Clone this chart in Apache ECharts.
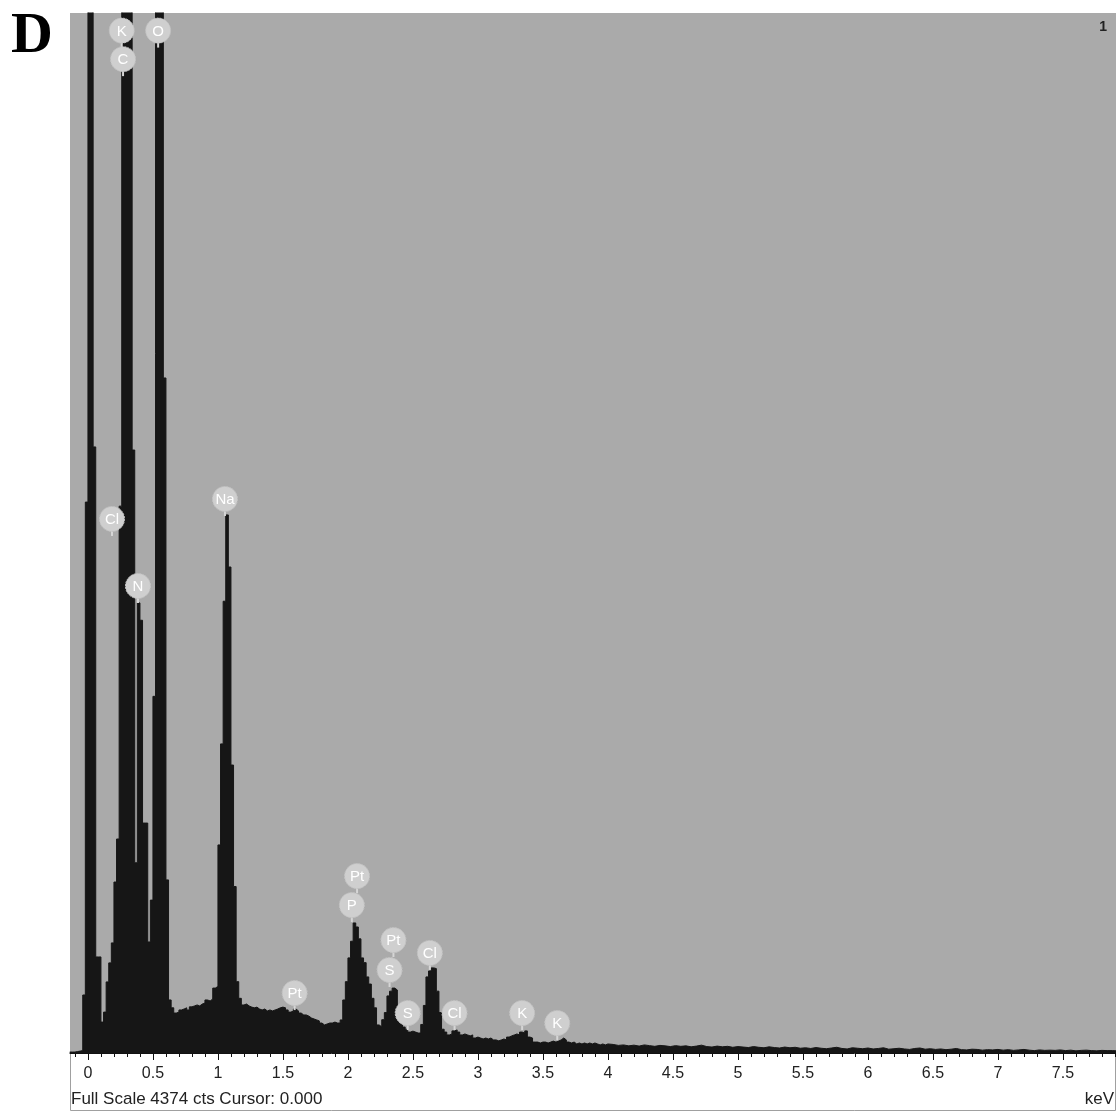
<!DOCTYPE html>
<html>
<head>
<meta charset="utf-8">
<title>EDS spectrum D</title>
<script src="https://cdn.jsdelivr.net/npm/echarts@6/dist/echarts.min.js"></script>
<style>
  html, body { margin: 0; padding: 0; background: #fff; }
  #chart { width: 1116px; height: 1112px; }
</style>
</head>
<body>
<div id="chart"></div>
<script>
// spectrum, 0.02 keV channels starting at -0.14 keV (counts)
const lowStart = -0.14;
const lowWidth = 0.02;
const lowCounts = [
    4, 4, 6, 8, 10, 244, 2317, 5000, 5000, 2549,
    404, 404, 130, 172, 299, 379, 463, 719, 900, 2300,
    5000, 5000, 5000, 5000, 2536, 800, 1893, 1820, 967, 967,
    467, 643, 1500, 5000, 5000, 5000, 2839, 728, 223, 190,
    168, 172, 181, 185, 190, 181, 194, 198, 202, 198,
    206, 210, 223, 219, 227, 273, 280, 875, 1300, 1900,
    2263, 2044, 1211, 700, 300, 230, 202, 206, 198, 193,
    190, 193, 185, 181, 185, 177, 181, 177, 181, 185,
    190, 193, 190, 181, 172, 176, 185, 177, 168, 160,
    160, 155, 147, 143, 139, 135, 126, 118, 122, 126,
    126, 130, 126, 126, 139, 223, 300, 400, 470, 547,
    530, 480, 400, 380, 320, 290, 230, 190, 118, 110,
    140, 170, 240, 260, 273, 265, 181, 140, 109, 100,
    88, 92, 88, 84, 84, 120, 200, 320, 345, 358,
    355, 260, 170, 100, 88, 76, 80, 93, 97, 88,
    76, 80, 76, 72, 76, 63, 67, 63, 59, 63,
    59, 63, 55, 55, 51, 55, 59, 55, 67, 72,
    76, 80, 76, 88, 84, 93, 67, 63, 46, 46,
    42, 46, 46, 42, 46, 50, 46, 50, 55, 63,
    55, 46, 42, 46, 38, 42, 38, 42, 38, 42,
    38, 42, 38, 34, 38, 34, 38
];

// tail, 0.04 keV channels from 4.00 keV
const tailStart = 4.0;
const tailWidth = 0.04;
const tailCounts = [
    36, 32, 34, 30, 33, 29, 34, 31, 28, 32, 30, 27, 31,
    28, 30, 26, 29, 33, 27, 25, 29, 26, 28, 24, 27,
    25, 23, 27, 24, 22, 26, 23, 21, 25, 22, 24, 20,
    22, 19, 23, 20, 18, 21, 24, 19, 17, 22, 20, 18,
    21, 17, 19, 22, 16, 18, 20, 17, 15, 19, 21, 16,
    18, 15, 17, 14, 16, 19, 14, 13, 16, 15, 12, 14,
    13, 15, 12, 14, 11, 13, 15, 12, 10, 13, 11, 12,
    11, 13, 10, 12, 9, 11, 12, 10, 9, 11, 10, 10, 9
];

// element markers: name, energy (keV), height of badge (counts)
const peakLabels   = ['K', 'C', 'O', 'Cl', 'N', 'Na', 'Pt', 'P', 'Pt', 'S', 'Cl', 'Pt', 'S', 'Cl', 'K', 'K'];
const peakEnergies = [0.26, 0.27, 0.54, 0.185, 0.385, 1.054, 2.07, 2.03, 2.35, 2.32, 2.63, 1.59, 2.46, 2.82, 3.34, 3.61];
const peakHeights  = [4300, 4180, 4300, 2246, 1964, 2330, 744, 622, 475, 349, 421, 252, 168, 168, 168, 126];

const majorTicks = [0, 0.5, 1, 1.5, 2, 2.5, 3, 3.5, 4, 4.5, 5, 5.5, 6, 6.5, 7, 7.5];
const fullScale = 4374;
const xMin = -0.138;
const xMax = 7.908;

// build step data
const spectrum = [];
lowCounts.forEach((c, i) => spectrum.push([+(lowStart + i * lowWidth).toFixed(3), c]));
tailCounts.forEach((c, i) => spectrum.push([+(tailStart + i * tailWidth).toFixed(3), c]));
spectrum.push([+(tailStart + tailCounts.length * tailWidth).toFixed(3), tailCounts[tailCounts.length - 1]]);

const minorTicks = [];
for (let t = -1; t <= 79; t++) {
    minorTicks.push(+(t / 10).toFixed(1));
}

const chart = echarts.init(document.getElementById('chart'));

const option = {
    animation: false,
    backgroundColor: '#ffffff',
    grid: {
        left: 70,
        right: 0,
        top: 13,
        bottom: 59,
        show: true,
        backgroundColor: '#aaaaaa',
        borderWidth: 0
    },
    xAxis: [
        {
            type: 'value',
            min: xMin,
            max: xMax,
            position: 'bottom',
            splitLine: { show: false },
            axisLine: { show: true, onZero: false, lineStyle: { color: '#111', width: 1 } },
            axisTick: { show: true, customValues: minorTicks, length: 4, lineStyle: { color: '#111' } },
            axisLabel: { show: false }
        },
        {
            type: 'value',
            min: xMin,
            max: xMax,
            position: 'bottom',
            splitLine: { show: false },
            axisLine: { show: false, onZero: false },
            axisTick: { show: true, customValues: majorTicks, length: 7, lineStyle: { color: '#111' } },
            axisLabel: {
                show: true,
                customValues: majorTicks,
                margin: 13,
                color: '#222',
                fontSize: 16,
                fontFamily: 'Liberation Sans'
            }
        }
    ],
    yAxis: {
        type: 'value',
        min: 0,
        max: fullScale,
        show: false
    },
    series: [
        {
            type: 'line',
            xAxisIndex: 0,
            data: spectrum,
            step: 'end',
            symbol: 'none',
            clip: true,
            lineStyle: { color: '#161616', width: 1 },
            areaStyle: { color: '#161616', opacity: 1 },
            z: 2
        },
        {
            type: 'custom',
            xAxisIndex: 0,
            data: peakEnergies.map((e, i) => [e, peakHeights[i]]),
            z: 5,
            renderItem: function (params, api) {
                const p = api.coord([api.value(0), api.value(1)]);
                return {
                    type: 'group',
                    children: [
                        {
                            type: 'line',
                            shape: { x1: p[0], y1: p[1] + 10, x2: p[0], y2: p[1] + 17 },
                            style: { stroke: '#d6d6d6', lineWidth: 2 }
                        },
                        {
                            type: 'circle',
                            shape: { cx: p[0], cy: p[1], r: 12.5 },
                            style: { fill: '#cfcfcf', stroke: '#c2c2c2', lineWidth: 1, lineDash: [2, 1] }
                        },
                        {
                            type: 'text',
                            style: {
                                text: peakLabels[params.dataIndex],
                                x: p[0],
                                y: p[1] + 1,
                                align: 'center',
                                verticalAlign: 'middle',
                                fill: '#ffffff',
                                fontSize: 15,
                                fontFamily: 'Liberation Sans'
                            }
                        }
                    ]
                };
            }
        }
    ],
    graphic: [
        {
            type: 'text',
            left: 11,
            top: 8,
            style: {
                text: 'D',
                fontSize: 58,
                fontWeight: 'bold',
                fontFamily: 'Liberation Serif',
                fill: '#000'
            }
        },
        {
            type: 'text',
            right: 9,
            top: 20,
            z: 10,
            style: {
                text: '1',
                fontSize: 14,
                fontWeight: 'bold',
                fontFamily: 'Liberation Sans',
                fill: '#222'
            }
        },
        {
            type: 'text',
            left: 71,
            top: 1091,
            style: {
                text: 'Full Scale 4374 cts Cursor: 0.000',
                fontSize: 17,
                fontFamily: 'Liberation Sans',
                fill: '#222'
            }
        },
        {
            type: 'text',
            right: 2,
            top: 1091,
            style: {
                text: 'keV',
                fontSize: 17,
                fontFamily: 'Liberation Sans',
                fill: '#222'
            }
        },
        {
            type: 'polyline',
            shape: { points: [[70.5, 1053], [70.5, 1110.5], [1115.5, 1110.5], [1115.5, 1053]] },
            style: { stroke: '#a0a0a0', lineWidth: 1, fill: null }
        }
    ]
};

chart.setOption(option);

window.addEventListener('resize', function () {
    chart.resize();
});
</script>
</body>
</html>
